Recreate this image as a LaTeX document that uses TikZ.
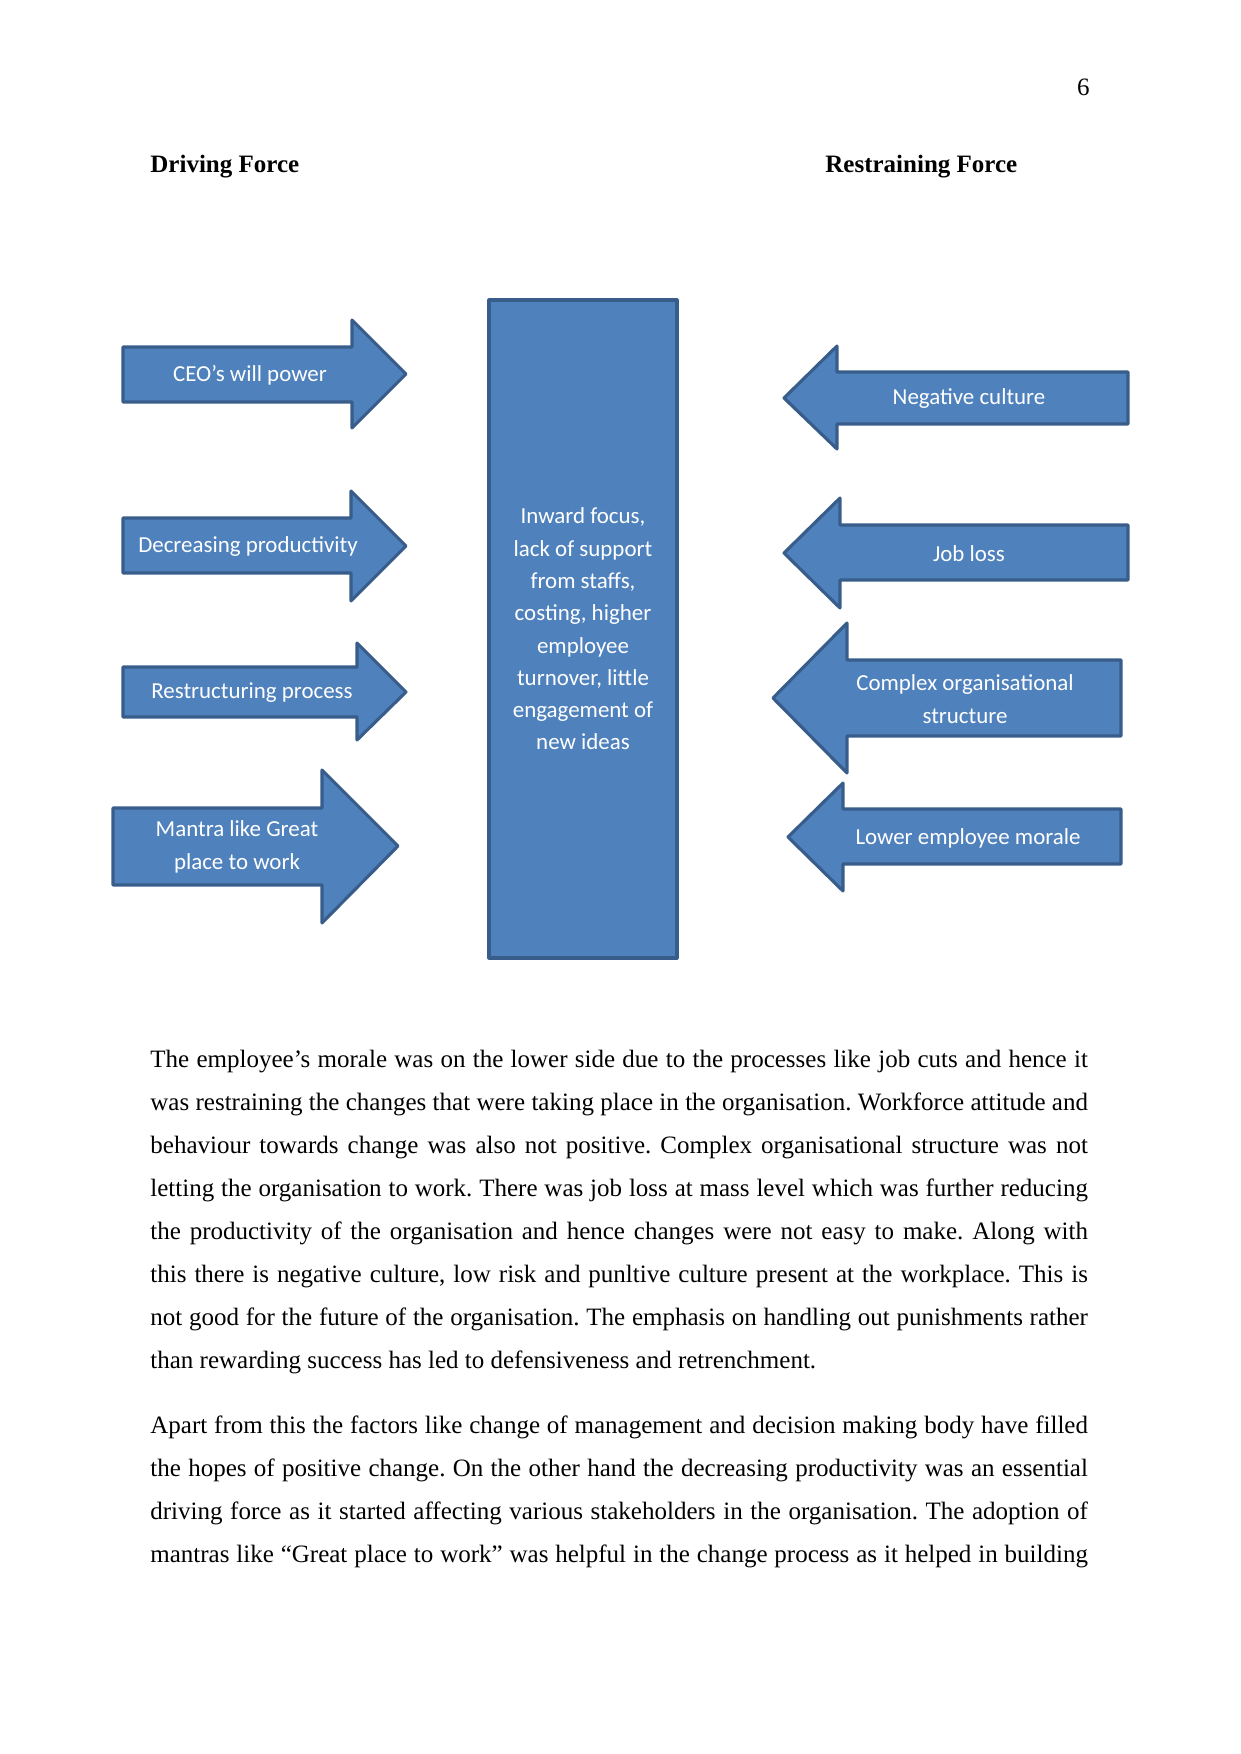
\documentclass[tikz,border=0pt]{standalone}
\usepackage{fontspec}
\setmainfont{Liberation Serif}
\newfontfamily\calfont{Carlito}
\usepackage{tikz}
\usetikzlibrary{positioning}
\definecolor{boxblue}{RGB}{79,129,189}
\definecolor{edgeblue}{RGB}{56,93,138}
\frenchspacing

\tikzset{
  force/.style={fill=boxblue, draw=edgeblue, line width=1.5pt, line join=round},
  forcetext/.style={text=white, font=\calfont\fontsize{11pt}{15.5pt}\selectfont, align=center, inner sep=0pt},
  heading/.style={font=\fontsize{12pt}{14pt}\selectfont\bfseries, anchor=base west, inner sep=0pt},
  bodytext/.style={anchor=base west, text width=450pt, align=justify, inner sep=0pt,
                   font=\fontsize{12pt}{20.7pt}\selectfont}
}

\begin{document}
\begin{tikzpicture}[x=0.48pt, y=-0.48pt]

\useasboundingbox (0,0) rectangle (1241,1754);

%---------------------------------------
% Page number and headings
%---------------------------------------
\node[anchor=base east, inner sep=0pt, font=\fontsize{12pt}{14pt}\selectfont] (pageno) at (1090,95) {6};
\node[heading] (drive) at (150,172) {Driving Force};
\node[heading] (restrain) at (825,172) {Restraining Force};

%---------------------------------------
% Centre: the field
%---------------------------------------
\node[force, forcetext, minimum width=90.2pt, minimum height=315.8pt] (field) at (583,629)
  {Inward focus,\\ lack of support\\ from staffs,\\ costing, higher\\ employee\\ turnover, little\\ engagement of\\ new ideas};

%====================================================
% LEFT: driving forces (pointing right)
%====================================================
\draw[force] (123,347) -- (352,347) -- (352,320) -- (406,374) -- (352,428) -- (352,402) -- (123,402) -- cycle;
\node[forcetext] (ceo) at (250,375) {CEO’s will power};

\draw[force] (123,518) -- (351,518) -- (351,491) -- (406,546) -- (351,601) -- (351,573) -- (123,573) -- cycle;
\node[forcetext] (productivity) at (248,547) {Decreasing productivity};

\draw[force] (123,667) -- (357,667) -- (357,643) -- (406,692) -- (357,740) -- (357,717) -- (123,717) -- cycle;
\node[forcetext] (restructuring) at (252,693) {Restructuring process};

\draw[force] (113,808) -- (322,808) -- (322,770) -- (398,846) -- (322,923) -- (322,885) -- (113,885) -- cycle;
\node[forcetext] (mantra) at (237,847) {Mantra like Great\\ place to work};

%====================================================
% RIGHT: restraining forces (pointing left)
%====================================================
\draw[force] (1128,372) -- (837,372) -- (837,346) -- (784,398) -- (837,449) -- (837,424) -- (1128,424) -- cycle;
\node[forcetext] (culture) at (969,399) {Negative culture};

\draw[force] (1128,525) -- (840,525) -- (840,498) -- (784,553) -- (840,608) -- (840,580) -- (1128,580) -- cycle;
\node[forcetext] (jobloss) at (969,554) {Job loss};

\draw[force] (1121,660) -- (847,660) -- (847,623) -- (773,698) -- (847,773) -- (847,736) -- (1121,736) -- cycle;
\node[forcetext] (structure) at (965,699) {Complex organisational\\ structure};

\draw[force] (1121,809) -- (843,809) -- (843,783) -- (788,837) -- (843,891) -- (843,864) -- (1121,864) -- cycle;
\node[forcetext] (morale) at (968,838) {Lower employee morale};

%---------------------------------------
% Body text
%---------------------------------------
\node[bodytext] (para1) at (150,1067) {The employee’s morale was on the lower side due to the processes like job cuts and hence it\linebreak
was restraining the changes that were taking place in the organisation. Workforce attitude and\linebreak
behaviour towards change was also not positive. Complex organisational structure was not\linebreak
letting the organisation to work. There was job loss at mass level which was further reducing\linebreak
the productivity of the organisation and hence changes were not easy to make. Along with\linebreak
this there is negative culture, low risk and punltive culture present at the workplace. This is\linebreak
not good for the future of the organisation. The emphasis on handling out punishments rather\linebreak
than rewarding success has led to defensiveness and retrenchment.};

\node[bodytext] (para2) at (150,1433) {Apart from this the factors like change of management and decision making body have filled\linebreak
the hopes of positive change. On the other hand the decreasing productivity was an essential\linebreak
driving force as it started affecting various stakeholders in the organisation. The adoption of\linebreak
\makebox[\linewidth][s]{mantras like “Great place to work” was helpful in the change process as it helped in building}};

\end{tikzpicture}
\end{document}
